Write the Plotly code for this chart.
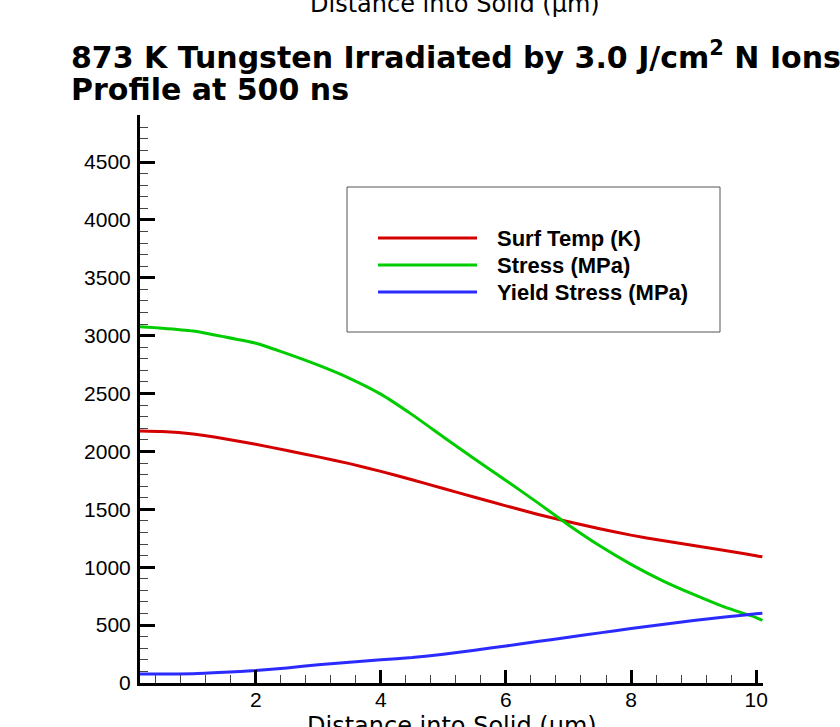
import plotly.graph_objects as go

# ---- data ----
distance_um = [0.15, 0.5, 1.0, 1.5, 2.0, 2.5, 3.0, 3.5, 4.0, 4.5, 5.0, 5.5,
               6.0, 6.5, 7.0, 7.5, 8.0, 8.5, 9.0, 9.5, 10.0, 10.1]
surf_temp_K = [2177, 2172, 2150, 2110, 2062, 2008, 1953, 1895, 1828, 1755, 1680, 1605,
               1530, 1458, 1393, 1333, 1277, 1230, 1187, 1145, 1100, 1090]
stress_MPa = [3077, 3065, 3040, 2990, 2935, 2845, 2745, 2632, 2495, 2318, 2125, 1935,
              1750, 1560, 1365, 1185, 1025, 885, 765, 655, 565, 540]
yield_stress_MPa = [78, 78, 80, 92, 107, 130, 158, 180, 200, 220, 248, 283,
                    320, 358, 395, 433, 470, 505, 540, 570, 598, 603]

series_names = ["Surf Temp (K)", "Stress (MPa)", "Yield Stress (MPa)"]
series_colors = ["#d40000", "#00cc00", "#2b2bff"]
x_tick_vals = [2, 4, 6, 8, 10]
y_tick_vals = [0, 500, 1000, 1500, 2000, 2500, 3000, 3500, 4000, 4500]

title_line1 = "873 K Tungsten Irradiated by 3.0 J/cm<sup>2</sup> N Ions"
title_line2 = "Profile at 500 ns"
x_title = "Distance into Solid (\u03bcm)"

fig = go.Figure()
for name, ys, col in zip(series_names, [surf_temp_K, stress_MPa, yield_stress_MPa], series_colors):
    fig.add_trace(go.Scatter(x=distance_um, y=ys, mode="lines", name=name,
                             line=dict(color=col, width=3, shape="spline", smoothing=0.5),
                             showlegend=False))

W, H = 840, 727
L, R, T, B = 140, 77, 115, 44
pw, ph = W - L - R, H - T - B

def px(xp):
    return (xp - L) / pw

def py(yp):
    return (H - B - yp) / ph

tick_font = dict(family="Liberation Sans, Arial, sans-serif", size=21, color="black")

fig.update_layout(
    width=W, height=H,
    margin=dict(l=L, r=R, t=T, b=B, autoexpand=False),
    paper_bgcolor="white", plot_bgcolor="white",
    xaxis=dict(range=[0.15, 10.11], showgrid=False, zeroline=False,
               showline=True, linecolor="black", linewidth=3,
               ticks="inside", ticklen=13, tickwidth=3, tickcolor="black",
               tickvals=x_tick_vals, tickfont=tick_font, ticklabelstandoff=-4,
               minor=dict(ticks="inside", ticklen=8, tickwidth=1, tickcolor="#444",
                          dtick=0.4, tick0=0, showgrid=False)),
    yaxis=dict(range=[0, 4906], showgrid=False, zeroline=False,
               showline=True, linecolor="black", linewidth=3,
               ticks="inside", ticklen=15, tickwidth=3, tickcolor="black",
               tickvals=y_tick_vals, tickfont=tick_font, ticklabelstandoff=2,
               minor=dict(ticks="inside", ticklen=8, tickwidth=1, tickcolor="#444",
                          dtick=100, tick0=0, showgrid=False)),
    showlegend=False,
)

title_font = dict(family="DejaVu Sans, sans-serif", size=30, color="black", weight="bold")
ann = []
ann.append(dict(text=title_line1, x=px(69), y=py(77), xref="paper", yref="paper",
                xanchor="left", yanchor="bottom", showarrow=False, font=title_font))
ann.append(dict(text=title_line2, x=px(69), y=py(109), xref="paper", yref="paper",
                xanchor="left", yanchor="bottom", showarrow=False, font=title_font))
axis_title_font = dict(family="DejaVu Sans, sans-serif", size=24, color="black")
ann.append(dict(text=x_title, x=px(452), y=py(710), xref="paper", yref="paper",
                xanchor="center", yanchor="top", showarrow=False, font=axis_title_font))
ann.append(dict(text=x_title, x=px(455), y=py(20), xref="paper", yref="paper",
                xanchor="center", yanchor="bottom", showarrow=False, font=axis_title_font))

# custom legend box
shapes = [dict(type="rect", xref="paper", yref="paper", x0=px(347), x1=px(720),
               y0=py(332), y1=py(187), line=dict(color="#555", width=1),
               fillcolor="rgba(0,0,0,0)")]
legend_font = dict(family="Liberation Sans, Arial, sans-serif", size=22, color="black", weight="bold")
for i, (name, col) in enumerate(zip(series_names, series_colors)):
    yrow = 238 + 27 * i
    shapes.append(dict(type="line", xref="paper", yref="paper", x0=px(378), x1=px(477),
                       y0=py(yrow), y1=py(yrow), line=dict(color=col, width=3)))
    ann.append(dict(text=name, x=px(495), y=py(yrow), xref="paper", yref="paper",
                    xanchor="left", yanchor="middle", showarrow=False, font=legend_font))

fig.update_layout(annotations=ann, shapes=shapes)
fig.write_html("out.html")
